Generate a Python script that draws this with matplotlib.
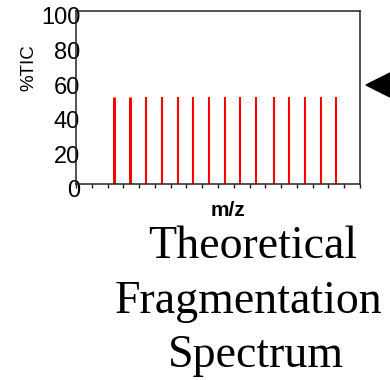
import matplotlib
matplotlib.use('Agg')
import matplotlib.pyplot as plt
import matplotlib.transforms as mtransforms
from matplotlib.patches import Polygon

# --- Data ---
mz = [2.41, 3.42, 4.44, 5.45, 6.46, 7.41, 8.43, 9.44, 10.39, 11.41,
      12.55, 13.50, 14.51, 15.52, 16.48]
tic = [50] * len(mz)
widths = [2.2, 2.2] + [1.5] * (len(mz) - 2)
y_ticks = [0, 20, 40, 60, 80, 100]
x_ticks = list(range(0, 19))
caption = ['Theoretical', 'Fragmentation', 'Spectrum']
caption_x = [253, 249, 256]      # centre of each line, px
caption_base = [258, 313, 367]   # baseline of each line, px

plt.rcParams['font.family'] = ['Liberation Sans', 'DejaVu Sans']

fig = plt.figure(figsize=(3.9, 3.8), dpi=100)
ax = fig.add_axes([76 / 390, 1 - 184 / 380, 284 / 390, 173 / 380])

for x, h, w in zip(mz, tic, widths):
    ax.vlines(x, 0, h, color='#ff0000', linewidth=w)

ax.set_xlim(0, 18)
ax.set_ylim(0, 100)
ax.set_xticks(x_ticks)
ax.set_xticklabels([])
ax.tick_params(axis='x', direction='out', length=3, width=1.0, color='#222222')
ax.set_yticks(y_ticks)
ax.set_yticklabels([str(v) for v in y_ticks], fontsize=17)
ax.tick_params(axis='y', length=0, pad=-3)

# shift y labels a little downward, as in the original
offset = mtransforms.ScaledTranslation(0, -5 / 100, fig.dpi_scale_trans)
for lbl in ax.get_yticklabels():
    lbl.set_transform(lbl.get_transform() + offset)

for sp in ax.spines.values():
    sp.set_linewidth(1.1)
    sp.set_color('#222222')

fig.text(28.5 / 390, 1 - 67.5 / 380, '%TIC', rotation=90, fontsize=13.5,
         ha='center', va='center')
fig.text(228 / 390, 1 - 216 / 380, 'm/z', fontsize=15, fontweight='bold',
         ha='center', va='baseline')

for txt, cx, base in zip(caption, caption_x, caption_base):
    fig.text(cx / 390, 1 - base / 380, txt, fontsize=33,
             family='Liberation Serif', ha='center', va='baseline')

# black pointer at the right edge
tri = Polygon([(366 / 390, 1 - 85 / 380), (392 / 390, 1 - 72 / 380),
               (392 / 390, 1 - 98 / 380)], closed=True,
              transform=fig.transFigure, color='black', clip_on=False)
fig.patches.append(tri)

fig.savefig('out.png', dpi=100)
